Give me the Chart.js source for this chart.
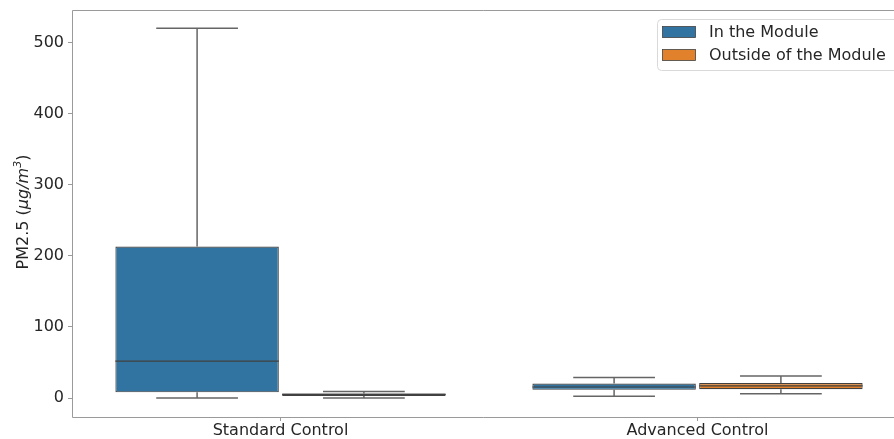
<!DOCTYPE html>
<html>
<head>
<meta charset="utf-8">
<script src="https://cdn.jsdelivr.net/npm/chart.js@4/dist/chart.umd.min.js"></script>
<style>
  html, body { margin: 0; padding: 0; background: #fff; overflow: hidden; }
  canvas { display: block; }
</style>
</head>
<body>
<canvas id="pm25" width="894" height="439"></canvas>
<script>
// PM2.5 boxplots per control mode, inside vs outside the module
const categories = ['Standard Control', 'Advanced Control'];
const seriesNames = ['In the Module', 'Outside of the Module'];
const seriesColors = ['#3274a1', '#e1812c'];

// five-number summaries (whisker low, Q1, median, Q3, whisker high)
const inLow = [0, 2.5];
const inQ1 = [8, 11.5];
const inMedian = [52, 15.5];
const inQ3 = [213, 20.5];
const inHigh = [520, 29];

const outLow = [0, 6];
const outQ1 = [3, 12.5];
const outMedian = [5, 17];
const outQ3 = [6.5, 21];
const outHigh = [9, 31];

const yTicks = [0, 100, 200, 300, 400, 500];

const FONT = 'DejaVu Sans';
const edgeGray = '#414141';
const whiskerGray = '#656565';
const axisGray = '#9a9a9a';
const textColor = '#262626';
const PLOT_RIGHT = 906; // plot area continues past the canvas edge

function boxes(q1, q3) {
    return q1.map((v, i) => [v, q3[i]]);
}

const boxPlugin = {
    id: 'boxWhiskers',
    afterLayout(chart) {
        // widen the x scale so the last category sits where it should
        const x = chart.scales.x;
        chart.chartArea.right = PLOT_RIGHT;
        chart.chartArea.width = PLOT_RIGHT - chart.chartArea.left;
        x.right = PLOT_RIGHT;
        x.width = PLOT_RIGHT - x.left;
        x.configure();
    },
    afterDatasetsDraw(chart) {
        const ctx = chart.ctx;
        const y = chart.scales.y;
        ctx.save();
        chart.data.datasets.forEach((ds, di) => {
            const meta = chart.getDatasetMeta(di);
            meta.data.forEach((bar, i) => {
                const x = bar.x;
                const half = bar.width / 2;
                const cap = bar.width / 4;
                const yLow = y.getPixelForValue(ds.low[i]);
                const yHigh = y.getPixelForValue(ds.high[i]);
                const yQ1 = y.getPixelForValue(ds.data[i][0]);
                const yQ3 = y.getPixelForValue(ds.data[i][1]);
                const yMed = y.getPixelForValue(ds.median[i]);
                ctx.strokeStyle = whiskerGray;
                ctx.lineWidth = 1.5;
                ctx.beginPath();
                ctx.moveTo(x, yQ3); ctx.lineTo(x, yHigh);
                ctx.moveTo(x, yQ1); ctx.lineTo(x, yLow);
                ctx.moveTo(x - cap, yHigh); ctx.lineTo(x + cap, yHigh);
                ctx.moveTo(x - cap, yLow); ctx.lineTo(x + cap, yLow);
                ctx.stroke();
                ctx.strokeStyle = edgeGray;
                ctx.lineWidth = 1.2;
                ctx.beginPath();
                ctx.moveTo(x - half, yMed); ctx.lineTo(x + half, yMed);
                ctx.stroke();
            });
        });
        ctx.restore();
    },
    afterDraw(chart) {
        const ctx = chart.ctx;
        const area = chart.chartArea;
        ctx.save();

        // axes frame: left, top and bottom spines
        const l = Math.round(area.left) + 0.5, t = Math.round(area.top) + 0.5;
        const b = Math.round(area.bottom) + 0.5;
        ctx.strokeStyle = axisGray;
        ctx.lineWidth = 1;
        ctx.beginPath();
        ctx.moveTo(l, t); ctx.lineTo(chart.width, t);
        ctx.moveTo(l, t); ctx.lineTo(l, b); ctx.lineTo(chart.width, b);
        ctx.stroke();

        // legend in the upper right corner, clipped by the canvas edge
        const lx = 657, ly = 19, lh = 51;
        ctx.fillStyle = 'rgba(255,255,255,0.8)';
        ctx.strokeStyle = '#d9d9d9';
        ctx.beginPath();
        ctx.moveTo(chart.width, ly + 0.5);
        ctx.arcTo(lx + 0.5, ly + 0.5, lx + 0.5, ly + lh + 0.5, 4);
        ctx.arcTo(lx + 0.5, ly + lh + 0.5, chart.width, ly + lh + 0.5, 4);
        ctx.lineTo(chart.width, ly + lh + 0.5);
        ctx.fill();
        ctx.stroke();
        ctx.font = '16px "' + FONT + '"';
        ctx.textBaseline = 'middle';
        seriesNames.forEach((name, i) => {
            const cy = 32 + i * 23;
            ctx.fillStyle = seriesColors[i];
            ctx.fillRect(662.5, cy - 5.5, 33, 11);
            ctx.strokeStyle = edgeGray;
            ctx.lineWidth = 0.8;
            ctx.strokeRect(662.5, cy - 5.5, 33, 11);
            ctx.fillStyle = textColor;
            ctx.fillText(name, 709, cy + 1);
        });

        // rotated y-axis title with italic unit
        const parts = [
            { t: 'PM2.5 (', f: '16px "' + FONT + '"', dy: 0 },
            { t: 'μg/m', f: 'italic 16px "' + FONT + '"', dy: 0 },
            { t: '3', f: 'italic 11px "' + FONT + '"', dy: -7 },
            { t: ')', f: '16px "' + FONT + '"', dy: 0 }
        ];
        let total = 0;
        parts.forEach(p => { ctx.font = p.f; p.w = ctx.measureText(p.t).width; total += p.w; });
        ctx.translate(28, 212);
        ctx.rotate(-Math.PI / 2);
        ctx.fillStyle = textColor;
        ctx.textBaseline = 'alphabetic';
        let cx = -total / 2;
        parts.forEach(p => {
            ctx.font = p.f;
            ctx.fillText(p.t, cx, p.dy);
            cx += p.w;
        });
        ctx.restore();
    }
};

const chart = new Chart(document.getElementById('pm25'), {
    type: 'bar',
    data: {
        labels: categories,
        datasets: [
            {
                label: seriesNames[0],
                data: boxes(inQ1, inQ3),
                low: inLow, median: inMedian, high: inHigh,
                backgroundColor: seriesColors[0],
                borderColor: edgeGray,
                borderWidth: 1.2,
                borderSkipped: false
            },
            {
                label: seriesNames[1],
                data: boxes(outQ1, outQ3),
                low: outLow, median: outMedian, high: outHigh,
                backgroundColor: seriesColors[1],
                borderColor: edgeGray,
                borderWidth: 1.2,
                borderSkipped: false
            }
        ]
    },
    options: {
        responsive: false,
        animation: false,
        devicePixelRatio: 1,
        categoryPercentage: 0.8,
        barPercentage: 0.98,
        layout: { padding: { top: 10, right: 0, left: 0, bottom: 0 } },
        plugins: { legend: { display: false }, tooltip: { enabled: false } },
        scales: {
            x: {
                grid: { offset: false, drawOnChartArea: false, tickLength: 4, color: axisGray },
                border: { display: false },
                ticks: { font: { family: FONT, size: 16 }, color: textColor, padding: 0 },
                afterFit(scale) {
                    scale.height = 22;
                    scale.paddingLeft = 0;
                    scale.paddingRight = 0;
                }
            },
            y: {
                min: -26.7,
                max: 545.7,
                grid: { drawOnChartArea: false, tickLength: 4, color: axisGray },
                border: { display: false },
                ticks: { font: { family: FONT, size: 16 }, color: textColor, padding: 4 },
                afterBuildTicks(scale) { scale.ticks = yTicks.map(v => ({ value: v })); },
                afterFit(scale) {
                    scale.width = 72;
                    scale.paddingTop = 0;
                    scale.paddingBottom = 0;
                }
            }
        }
    },
    plugins: [boxPlugin]
});
</script>
</body>
</html>
